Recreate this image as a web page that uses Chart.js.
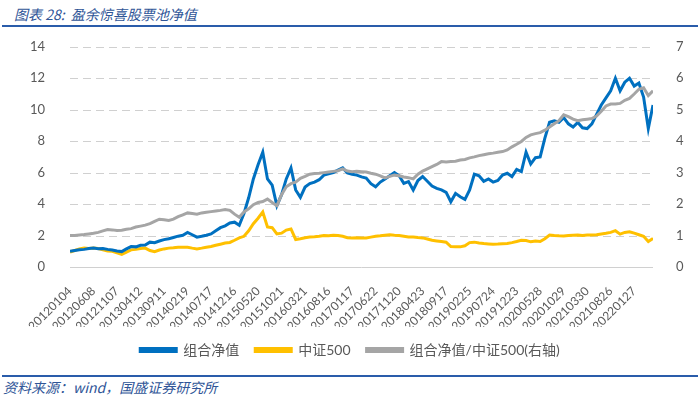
<!DOCTYPE html>
<html>
<head>
<meta charset="utf-8">
<script src="https://cdn.jsdelivr.net/npm/chart.js@4/dist/chart.umd.min.js"></script>
<style>
  body { margin: 0; width: 700px; height: 399px; background: #fff; position: relative; overflow: hidden; }
  .title { position: absolute; left: 14px; top: 4px; font: italic 14px "Noto Sans CJK SC", sans-serif; color: #2f5597; }
  .rule { position: absolute; left: 2px; width: 696px; height: 2px; background: #2a5caa; }
  .source { position: absolute; left: 3px; top: 377px; font: italic 14px "Noto Sans CJK SC", sans-serif; color: #2f5597; }
  #wrap { position: absolute; left: 0; top: 22px; width: 700px; height: 345px; }
</style>
</head>
<body>
<div class="title">图表 28:&nbsp; 盈余惊喜股票池净值</div>
<div class="rule" style="top:25px"></div>
<div id="wrap"><canvas id="navChart"></canvas></div>
<div class="rule" style="top:375px"></div>
<div class="source">资料来源：wind，国盛证券研究所</div>

<script>
// x-axis tick labels (one every 5 samples)
const tickDates = [
    '20120104', '20120608', '20121107', '20130412', '20130911', '20140219',
    '20140717', '20141216', '20150520', '20151021', '20160321', '20160816',
    '20170117', '20170622', '20171120', '20180423', '20180917', '20190225',
    '20190724', '20191223', '20200528', '20201029', '20210330', '20210826',
    '20220127'
];

// 组合净值 (left axis)
const portfolioNav = [
    1.00, 1.05, 1.10, 1.12, 1.18, 1.20, 1.16, 1.18, 1.12, 1.08,
    1.02, 0.98, 1.15, 1.30, 1.28, 1.38, 1.40, 1.58, 1.55, 1.65,
    1.74, 1.80, 1.88, 1.96, 2.02, 2.20, 2.05, 1.90, 1.95, 2.02,
    2.10, 2.30, 2.50, 2.62, 2.80, 2.85, 2.65, 3.40, 4.40, 5.60,
    6.50, 7.30, 5.60, 5.20, 3.90, 4.60, 5.60, 6.30, 4.90, 4.43,
    5.08, 5.30, 5.40, 5.55, 5.84, 5.92, 6.00, 6.16, 6.30, 5.98,
    5.90, 5.84, 5.73, 5.65, 5.30, 5.10, 5.40, 5.60, 5.80, 6.00,
    5.80, 5.32, 5.43, 4.90, 5.50, 5.75, 5.45, 5.15, 5.00, 4.90,
    4.75, 4.15, 4.68, 4.47, 4.30, 4.90, 5.90, 5.80, 5.45, 5.60,
    5.40, 5.50, 5.85, 5.96, 5.75, 6.20, 6.06, 7.30, 6.55, 6.95,
    7.00, 8.20, 9.20, 9.30, 9.20, 9.50, 9.10, 8.90, 9.19, 8.85,
    8.80, 9.10, 9.70, 10.30, 10.75, 11.20, 12.00, 11.20, 11.75, 12.00,
    11.50, 11.70, 10.80, 8.80, 10.30
];

// 中证500 (left axis)
const csi500 = [
    0.95, 1.05, 1.15, 1.20, 1.18, 1.20, 1.18, 1.10, 1.02, 1.00,
    0.90, 0.80, 0.95, 1.09, 1.12, 1.18, 1.20, 1.05, 0.98, 1.08,
    1.15, 1.20, 1.22, 1.26, 1.25, 1.26, 1.20, 1.15, 1.20, 1.26,
    1.30, 1.38, 1.45, 1.52, 1.56, 1.70, 1.85, 1.95, 2.30, 2.75,
    3.10, 3.50, 2.55, 2.50, 2.10, 2.15, 2.35, 2.42, 1.75, 1.80,
    1.86, 1.90, 1.92, 1.95, 2.00, 1.98, 2.02, 2.00, 1.95, 1.86,
    1.84, 1.86, 1.84, 1.85, 1.90, 1.95, 1.98, 2.02, 2.05, 2.02,
    2.00, 1.96, 1.91, 1.90, 1.87, 1.85, 1.78, 1.70, 1.66, 1.62,
    1.58, 1.30, 1.28, 1.28, 1.35, 1.55, 1.58, 1.52, 1.49, 1.47,
    1.45, 1.46, 1.48, 1.49, 1.55, 1.62, 1.70, 1.68, 1.60, 1.65,
    1.62, 1.80, 2.03, 2.00, 1.98, 1.97, 2.00, 2.02, 2.03, 2.00,
    2.03, 2.03, 2.05, 2.10, 2.14, 2.20, 2.31, 2.09, 2.20, 2.24,
    2.15, 2.05, 1.95, 1.62, 1.82
];

// 组合净值/中证500 (right axis)
const relativeNav = [
    1.00, 1.00, 1.02, 1.03, 1.05, 1.07, 1.10, 1.15, 1.19, 1.18,
    1.16, 1.17, 1.20, 1.22, 1.27, 1.30, 1.33, 1.38, 1.45, 1.52,
    1.50, 1.48, 1.52, 1.60, 1.66, 1.72, 1.70, 1.68, 1.72, 1.74,
    1.76, 1.78, 1.80, 1.83, 1.80, 1.68, 1.58, 1.75, 1.85, 1.98,
    2.05, 2.08, 2.16, 2.05, 1.95, 2.30, 2.55, 2.65, 2.70, 2.82,
    2.88, 2.95, 2.97, 2.98, 3.00, 3.02, 3.04, 3.06, 3.12, 3.05,
    3.03, 3.04, 3.03, 3.02, 2.98, 2.95, 2.90, 2.83, 2.88, 2.92,
    2.90, 2.86, 2.84, 2.80, 2.95, 3.05, 3.12, 3.19, 3.26, 3.35,
    3.34, 3.35, 3.36, 3.40, 3.42, 3.47, 3.50, 3.54, 3.57, 3.60,
    3.62, 3.65, 3.67, 3.72, 3.82, 3.90, 3.99, 4.12, 4.20, 4.24,
    4.27, 4.35, 4.45, 4.55, 4.65, 4.84, 4.78, 4.70, 4.65, 4.68,
    4.70, 4.72, 4.80, 4.95, 5.12, 5.18, 5.18, 5.20, 5.30, 5.36,
    5.50, 5.65, 5.70, 5.45, 5.60
];

const seriesNames = ['组合净值', '中证500', '组合净值/中证500(右轴)'];
const seriesColors = ['#0070c0', '#ffc000', '#a5a5a5'];

const labelFont = "Lato, 'Noto Sans CJK SC', sans-serif";
const tickColor = '#595959';
const gridColor = '#d0d0d0';

function toPoints(values) {
    return values.map((y, i) => ({ x: i, y: y }));
}

function makeDataset(idx, values, axis, order) {
    return {
        label: seriesNames[idx],
        data: toPoints(values),
        yAxisID: axis,
        borderColor: seriesColors[idx],
        backgroundColor: seriesColors[idx],
        borderWidth: 3,
        pointRadius: 0,
        tension: 0,
        fill: false,
        order: order
    };
}

// grid lines from the left axis ticks, painted behind what is already drawn
const gridBehind = {
    id: 'gridBehind',
    afterDraw(chart) {
        const g = chart.ctx;
        const area = chart.chartArea;
        const yScale = chart.scales.y;
        g.save();
        g.globalCompositeOperation = 'destination-over';
        g.strokeStyle = gridColor;
        g.lineWidth = 1;
        for (const t of yScale.ticks) {
            const py = Math.round(yScale.getPixelForValue(t.value)) + 0.5;
            g.setLineDash(t.value === 0 ? [] : [8, 5]);
            g.beginPath();
            g.moveTo(area.left, py);
            g.lineTo(area.right, py);
            g.stroke();
        }
        g.restore();
    }
};

const ctx = document.getElementById('navChart').getContext('2d');

new Chart(ctx, {
    type: 'line',
    data: {
        datasets: [
            makeDataset(0, portfolioNav, 'y', 2),
            makeDataset(1, csi500, 'y', 3),
            makeDataset(2, relativeNav, 'y1', 1)
        ]
    },
    plugins: [gridBehind],
    options: {
        responsive: true,
        maintainAspectRatio: false,
        animation: false,
        layout: { padding: { top: 8, left: 0, right: 0, bottom: 0 } },
        plugins: {
            tooltip: { enabled: false },
            legend: {
                position: 'bottom',
                labels: {
                    sort: (a, b) => a.datasetIndex - b.datasetIndex,
                    boxWidth: 36,
                    boxHeight: 3,
                    padding: 16,
                    color: tickColor,
                    font: { family: labelFont, size: 14 }
                }
            }
        },
        scales: {
            x: {
                type: 'linear',
                min: 0,
                max: 124,
                grid: { display: false },
                border: { display: false },
                afterFit: (scale) => { scale.height = 60; },
                ticks: {
                    stepSize: 5,
                    includeBounds: false,
                    autoSkip: false,
                    maxRotation: 45,
                    minRotation: 45,
                    padding: 9,
                    color: tickColor,
                    font: { family: labelFont, size: 12 },
                    callback: (v) => (v % 5 === 0 && tickDates[v / 5]) ? tickDates[v / 5] : ''
                }
            },
            y: {
                position: 'left',
                min: 0,
                max: 14,
                afterFit: (scale) => { scale.width = 70; },
                grid: { display: false },
                border: { display: false },
                ticks: {
                    stepSize: 2,
                    padding: 17,
                    color: tickColor,
                    font: { family: labelFont, size: 13 }
                }
            },
            y1: {
                position: 'right',
                min: 0,
                max: 7,
                afterFit: (scale) => { scale.width = 47; },
                grid: { display: false },
                border: { display: false },
                ticks: {
                    stepSize: 1,
                    padding: 15,
                    color: tickColor,
                    font: { family: labelFont, size: 13 }
                }
            }
        }
    }
});
</script>
</body>
</html>
